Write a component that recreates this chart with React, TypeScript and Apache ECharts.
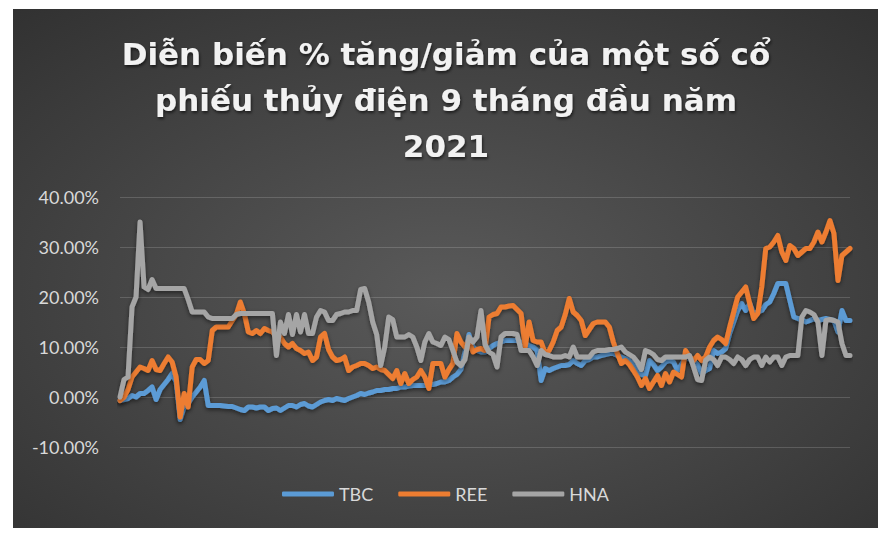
import { useEffect, useRef } from "react";
import * as echarts from "echarts";

const seriesNames = ["TBC", "REE", "HNA"];
const yTicks = [-10, 0, 10, 20, 30, 40];

// % change since the start of 2021, one value per trading day
const tbc = [
  -0.7, -0.5, -0.3, 0.3, 0, 0.7, 0.7, 1.3, 2, -0.5,
  1.5, 2.5, 3.5, 4.7, 3, -4.5, -2, -1.3, 0, 1,
  2, 3.3, -1.7, -1.7, -1.7, -1.7, -1.8, -1.9, -1.9, -2.2,
  -2.5, -2.7, -2, -2, -2.2, -2, -2, -2.7, -2.3, -2.2,
  -2.7, -2.2, -1.7, -1.7, -2, -1.5, -1.3, -1.8, -2, -1.5,
  -1, -0.7, -0.5, -0.7, -0.3, -0.5, -0.7, -0.3, 0, 0.3,
  0.7, 0.5, 0.8, 1, 1.3, 1.3, 1.5, 1.5, 1.7, 1.7,
  2, 2, 2.2, 2.3, 2.3, 2.3, 2.3, 2.5, 2.5, 2.7,
  3, 3, 3.3, 4, 4.5, 5.5, 9, 12.5, 10, 9.3,
  9, 9, 9.7, 10.3, 10.7, 11, 11.3, 11.3, 11.3, 11.3,
  11, 10.7, 10.3, 10, 9.3, 3.3, 5.7, 5.3, 5.7, 6,
  6.3, 6.3, 6.5, 7.3, 6.7, 6.3, 7.3, 7.5, 8, 8,
  8.3, 8.5, 8.7, 8.7, 8.3, 8, 7.7, 7.3, 6.5, 5.3,
  4.5, 4.3, 7.3, 6.5, 5.3, 6, 7, 7.3, 7, 5.3,
  6.5, 8, 7.5, 7.3, 6.5, 4.7, 5.3, 5.7, 9.3, 8.7,
  9, 9.7, 12.7, 15, 17.3, 18.7, 17.3, 18.7, 16.7, 17,
  17.3, 18.5, 19, 20.7, 22.7, 22.7, 22.7, 19.3, 16, 15.7,
  15.5, 15, 15.3, 15.7, 15.3, 15.5, 15.7, 15.5, 15.3, 13,
  17.3, 15.3, 15.3,
];

const ree = [
  -0.7, 0, 1.5, 4, 5, 6, 5.7, 5.3, 7.3, 5.5,
  5.3, 6.7, 8, 7, 4, -4, 0.7, -2, 6, 7.5,
  7.5, 6.7, 7.3, 13.3, 14, 14, 14, 14, 15.3, 16.5,
  19, 16.7, 13, 12.7, 13.3, 12.7, 13.7, 13.3, 13, 12,
  12, 10.7, 10, 10.7, 9.7, 9.3, 8.7, 9, 7.3, 8,
  12, 12.7, 9.5, 8, 7.3, 7.5, 8, 5.3, 6, 6.3,
  6.7, 6.7, 6.3, 5.7, 6, 5.5, 5.3, 4.5, 3.7, 5.3,
  2.7, 4.7, 2.7, 3.5, 4, 5.3, 4, 1.7, 6.7, 6.7,
  6.7, 4, 5.5, 6.7, 12.7, 11, 10, 11.3, 9, 9.5,
  9.7, 9.3, 16, 16.5, 16.7, 18, 18, 18.2, 18.3, 17.5,
  16.7, 10, 15, 11.3, 11, 11, 8.7, 9.3, 11, 13.3,
  14, 16.5, 19.7, 17, 16.3, 15.3, 12.3, 13.5, 14.7, 15,
  15, 15, 14, 11, 8.7, 6.7, 7.3, 6.5, 5.3, 4,
  2.3, 3.7, 1.7, 3, 4.3, 2.3, 4.7, 3, 5, 4.5,
  4, 9.3, 8, 7.3, 8.3, 7.3, 8, 10, 11.3, 12,
  11.5, 10.7, 14, 17, 20, 21, 22, 18.7, 15.7, 16.7,
  22, 29.7, 30, 31, 32.3, 29, 27.3, 30.3, 29.7, 28.3,
  29, 29.7, 29.7, 31, 33, 31, 33, 35.3, 32.7, 23.3,
  28.3, 29, 29.7,
];

const hna = [
  0, 3.5, 4, 18, 20, 35, 22, 21.5, 23.5, 21.7,
  21.7, 21.7, 21.7, 21.7, 21.7, 21.7, 21.7, 19.5, 17, 17,
  17, 17, 16, 15.7, 15.7, 15.7, 15.7, 15.7, 15.7, 16.5,
  16.7, 16.7, 16.7, 16.7, 16.7, 16.7, 16.7, 16.7, 16.7, 8.3,
  15, 12.7, 16.5, 12.5, 16.5, 13, 16.5, 12.7, 12.7, 16,
  17.3, 17, 15.3, 15.3, 16.5, 16.7, 17, 17, 17.3, 17.3,
  21.5, 21.7, 19, 15, 12.5, 6.3, 10, 16, 15.5, 12,
  12, 12, 12.5, 12, 10, 7.3, 11, 12.7, 11, 10.7,
  10.3, 12, 11.5, 9.3, 7, 6.3, 7.5, 12, 11, 12,
  17.3, 10.5, 9, 8.5, 6, 12, 12.7, 12.7, 12.7, 12.5,
  9.3, 9.3, 9.3, 8, 6.3, 9.3, 8.5, 8.3, 8, 8,
  8, 8.3, 8, 10, 8, 8, 8, 8, 9, 9.3,
  9.3, 9.3, 9.5, 9.5, 9.7, 10, 9, 8.5, 8, 7,
  5.5, 9.3, 9, 8.5, 7.5, 7.3, 8, 8, 8, 8,
  8, 8, 8.3, 6, 3.5, 3.3, 7.3, 8, 7.5, 6.3,
  8, 8, 7.5, 6.7, 8, 7.5, 6.3, 7.5, 8, 8,
  6.3, 8, 7, 8, 8, 6.3, 8, 8.3, 8.3, 8.3,
  16, 17.3, 17, 16.5, 15, 8.3, 15.3, 15.5, 15.3, 15,
  10.7, 8.3, 8.3,
];

const days = tbc.map((_, i) => String(i + 1));
const seriesData = [tbc, ree, hna];
const seriesColors = ["#5b9bd5", "#ed7d31", "#a5a5a5"];

export default function App() {
  const chartRef = useRef<HTMLDivElement>(null);

  useEffect(() => {
    if (!chartRef.current) {
      return undefined;
    }

    const chart = echarts.init(chartRef.current, undefined, { renderer: "svg" });

    chart.setOption({
      animation: false,
      backgroundColor: new echarts.graphic.RadialGradient(0.5, 0.55, 0.95, [
        { offset: 0, color: "#5a5a5a" },
        { offset: 1, color: "#262626" },
      ]),
      color: seriesColors,
      title: {
        text: "Diễn biến % tăng/giảm của một số cổ\nphiếu thủy điện 9 tháng đầu năm\n2021",
        left: 433,
        top: 22,
        padding: 0,
        textAlign: "center",
        textStyle: {
          color: "#f2f2f2",
          fontFamily: "DejaVu Sans",
          fontWeight: "bold",
          fontSize: 31,
          lineHeight: 46,
          textShadowColor: "rgba(0,0,0,0.6)",
          textShadowBlur: 3,
          textShadowOffsetX: 1,
          textShadowOffsetY: 2,
        },
      },
      legend: {
        data: seriesNames,
        left: "center",
        top: 471,
        icon: "roundRect",
        itemWidth: 52,
        itemHeight: 5,
        itemGap: 25,
        textStyle: { color: "#d9d9d9", fontFamily: "Lato", fontSize: 18 },
      },
      grid: { left: 107, right: 28, top: 188, bottom: 81, containLabel: false },
      xAxis: {
        type: "category",
        data: days,
        boundaryGap: false,
        axisLine: { show: false },
        axisTick: { show: false },
        axisLabel: { show: false },
        splitLine: { show: false },
      },
      yAxis: {
        type: "value",
        min: yTicks[0],
        max: yTicks[yTicks.length - 1],
        interval: 10,
        axisLine: { show: false },
        axisTick: { show: false },
        axisLabel: {
          color: "#d9d9d9",
          fontFamily: "Lato",
          fontSize: 18,
          margin: 21,
          formatter: (v: number) => `${v.toFixed(2)}%`,
        },
        splitLine: { lineStyle: { color: "rgba(255,255,255,0.16)", width: 1 } },
      },
      series: seriesNames.map((name, idx) => ({
        name,
        type: "line",
        data: seriesData[idx],
        showSymbol: false,
        symbol: "none",
        lineStyle: {
          width: 5,
          color: seriesColors[idx],
          cap: "round",
          join: "round",
          shadowColor: "rgba(0,0,0,0.5)",
          shadowBlur: 4,
          shadowOffsetY: 2,
        },
      })),
    });

    return () => {
      chart.dispose();
    };
  }, []);

  return (
    <div
      ref={chartRef}
      style={{ position: "absolute", left: 13, top: 9, width: 865, height: 519 }}
    />
  );
}
